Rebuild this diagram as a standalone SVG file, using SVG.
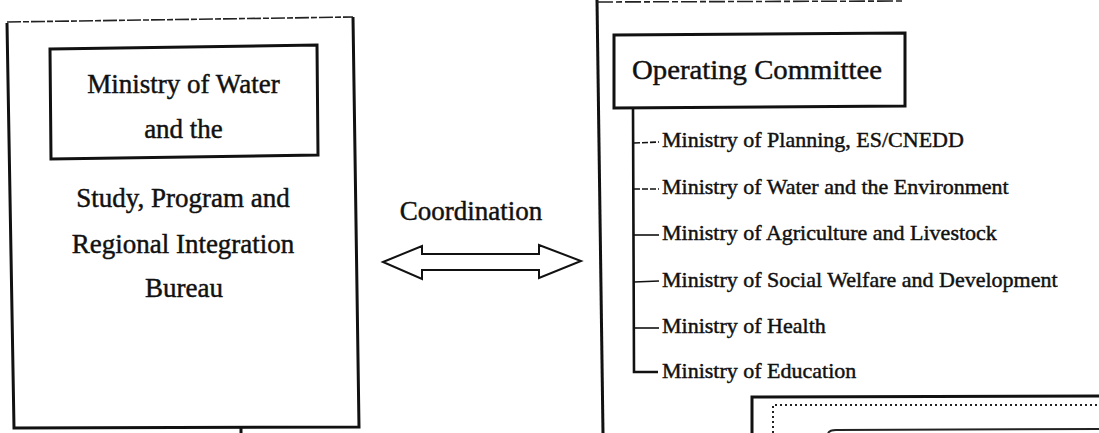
<svg xmlns="http://www.w3.org/2000/svg" width="1099" height="433" viewBox="0 0 1099 433">
<style>
text{font-family:"Liberation Serif","Times New Roman",serif;fill:#111;stroke:#111;stroke-width:0.45;}
.big{font-size:27px;}
.item{font-size:22px;}
.frame{fill:none;stroke:#111;stroke-width:3;stroke-linejoin:miter;}
.thin{fill:none;stroke:#222;stroke-width:1.6;}
.branch{fill:none;stroke:#111;stroke-width:1.6;}
.dash{stroke-dasharray:6,2;}
</style>
<rect width="1099" height="433" fill="#fff"/>

<g id="bureau-panel">
  <path class="frame" d="M7,23 L14,428 L359,427 L353,17"/>
  <path class="thin" d="M7,22 L353,17" stroke-dasharray="14,2,6,2"/>
  <line class="frame" x1="241" y1="427" x2="241" y2="433"/>
  <text class="big" x="183" y="207" text-anchor="middle">Study, Program and</text>
  <text class="big" x="183" y="253" text-anchor="middle">Regional Integration</text>
  <text class="big" x="184" y="297" text-anchor="middle">Bureau</text>
</g>

<g id="ministry-water">
  <path class="frame" d="M50,49 L317,45 L318,155 L51,159 Z"/>
  <text class="big" x="183.5" y="93" text-anchor="middle">Ministry of Water</text>
  <text class="big" x="183.5" y="138" text-anchor="middle">and the</text>
</g>

<g id="coordination-label">
  <text class="big" x="471" y="220" text-anchor="middle">Coordination</text>
</g>

<g id="committee-panel">
  <path class="frame" d="M597,0 L603,433"/>
  <path class="thin" d="M597,2 L905,1" stroke-dasharray="16,3,6,3"/>
</g>

<g id="operating-committee">
  <path class="frame" d="M614,35 L905,33 L905,106 L614,108 Z"/>
  <text x="632" y="79" font-size="28" textLength="250" lengthAdjust="spacingAndGlyphs">Operating Committee</text>
</g>

<g id="members">
  <text class="item" x="662" y="147">Ministry of Planning, ES/CNEDD</text>
  <text class="item" x="662" y="194">Ministry of Water and the Environment</text>
  <text class="item" x="662" y="240">Ministry of Agriculture and Livestock</text>
  <text class="item" x="662" y="287">Ministry of Social Welfare and Development</text>
  <text class="item" x="662" y="333">Ministry of Health</text>
  <text class="item" x="662" y="378">Ministry of Education</text>
</g>

<g id="sub-box">
  <path class="frame" d="M752,433 L752,397 L1099,396"/>
  <path fill="none" stroke="#222" stroke-width="2" stroke-dasharray="2,3" d="M773,433 L773,405 L1099,405"/>
  <path fill="none" stroke="#222" stroke-width="2" d="M828,433 Q830,430 836,430 L1099,429"/>
</g>

<g id="connectors">
  <path fill="none" stroke="#111" stroke-width="2.6" d="M633,108 L634,372 L658,372"/>
  <line class="branch dash" x1="634" y1="143" x2="659" y2="142"/>
  <line class="branch dash" x1="634" y1="189" x2="659" y2="189"/>
  <line class="branch" x1="634" y1="235" x2="659" y2="235"/>
  <line class="branch" x1="634" y1="282" x2="659" y2="281"/>
  <line class="branch" x1="634" y1="328" x2="659" y2="328"/>
  <path fill="#fff" stroke="#111" stroke-width="2" stroke-linejoin="miter" d="M383,262 L422,246 L422,254 L539,254 L539,245 L581,261 L539,278 L539,270 L422,270 L422,279 Z"/>
</g>
</svg>
